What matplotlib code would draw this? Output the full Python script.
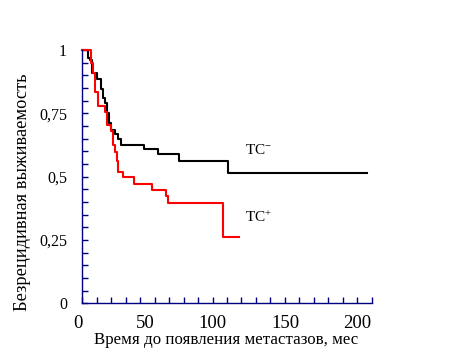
import matplotlib
matplotlib.use("Agg")
import matplotlib.pyplot as plt
from matplotlib.ticker import MultipleLocator, FixedLocator

# --- data ---
black_t = [0, 4, 5, 6.5, 10, 13, 14.5, 16, 17.3, 18.5, 20, 22.8, 24.8, 26.5, 42.5, 52, 67, 101, 197]
black_s = [1, 0.97, 0.96, 0.91, 0.885, 0.845, 0.81, 0.79, 0.75, 0.71, 0.685, 0.67, 0.65, 0.625, 0.61, 0.59, 0.5625, 0.515, 0.515]

red_t = [0, 6, 7.5, 8.8, 10.8, 15.5, 17.3, 19.7, 21, 22.5, 24, 25, 28, 35.5, 48, 57.7, 59.5, 97, 108.5]
red_s = [1, 0.95, 0.91, 0.835, 0.778, 0.755, 0.704, 0.68, 0.625, 0.598, 0.56, 0.52, 0.5, 0.47, 0.449, 0.425, 0.397, 0.263, 0.263]

x_ticks = [0, 50, 100, 150, 200]
y_ticks = [0, 0.25, 0.5, 0.75, 1]
y_tick_labels = ["0", "0,25", "0,5", "0,75", "1"]
label_black = "TC$^{-}$"
label_red = "TC$^{+}$"
xlabel = "Время до появления метастазов, мес"
ylabel = "Безрецидивная выживаемость"

plt.rcParams['font.family'] = ['Liberation Serif', 'DejaVu Serif']
plt.rcParams['mathtext.fontset'] = 'custom'
plt.rcParams['mathtext.rm'] = 'Liberation Serif'
plt.rcParams['mathtext.it'] = 'Liberation Serif'

fig = plt.figure(figsize=(4.6, 3.55), dpi=100)
W, H = 460, 355
x0, x1 = 82.3, 371.7
y0, y1 = 303.3, 50
ax = fig.add_axes([x0 / W, 1 - y0 / H, (x1 - x0) / W, (y0 - y1) / H])

ax.step(black_t, black_s, where='post', color='black', lw=1.5, clip_on=False)
ax.step(red_t, red_s, where='post', color='#ff0000', lw=1.5, clip_on=False)

ax.set_xlim(0, 200)
ax.set_ylim(0, 1)

navy = '#000080'
for s in ['top', 'right']:
    ax.spines[s].set_visible(False)
for s in ['left', 'bottom']:
    ax.spines[s].set_color(navy)
    ax.spines[s].set_linewidth(1.0)

ax.xaxis.set_major_locator(FixedLocator(x_ticks))
ax.xaxis.set_minor_locator(MultipleLocator(10))
ax.yaxis.set_major_locator(FixedLocator(y_ticks))
ax.yaxis.set_minor_locator(MultipleLocator(0.05))
ax.set_yticklabels(y_tick_labels)
ax.tick_params(which='both', direction='in', color=navy, length=4, width=1)
ax.tick_params(axis='y', which='major', pad=11, labelsize=11.5)
ax.tick_params(axis='x', which='major', pad=8.5, labelsize=13.5)
for lab in ax.get_xticklabels():
    lab.set_ha('right')

ax.set_xlabel(xlabel, fontsize=12.2)
ax.set_ylabel(ylabel, fontsize=13.2)
ax.xaxis.label.set_va('center')
ax.yaxis.label.set_va('center')
ax.xaxis.set_label_coords(0.497, -0.146)
ax.yaxis.set_label_coords(-0.207, 0.44)

ax.text(112.4, 0.605, label_black, fontsize=11, ha='left', va='center')
ax.text(112.4, 0.34, label_red, fontsize=11, ha='left', va='center')

fig.savefig('out.png', dpi=100)
